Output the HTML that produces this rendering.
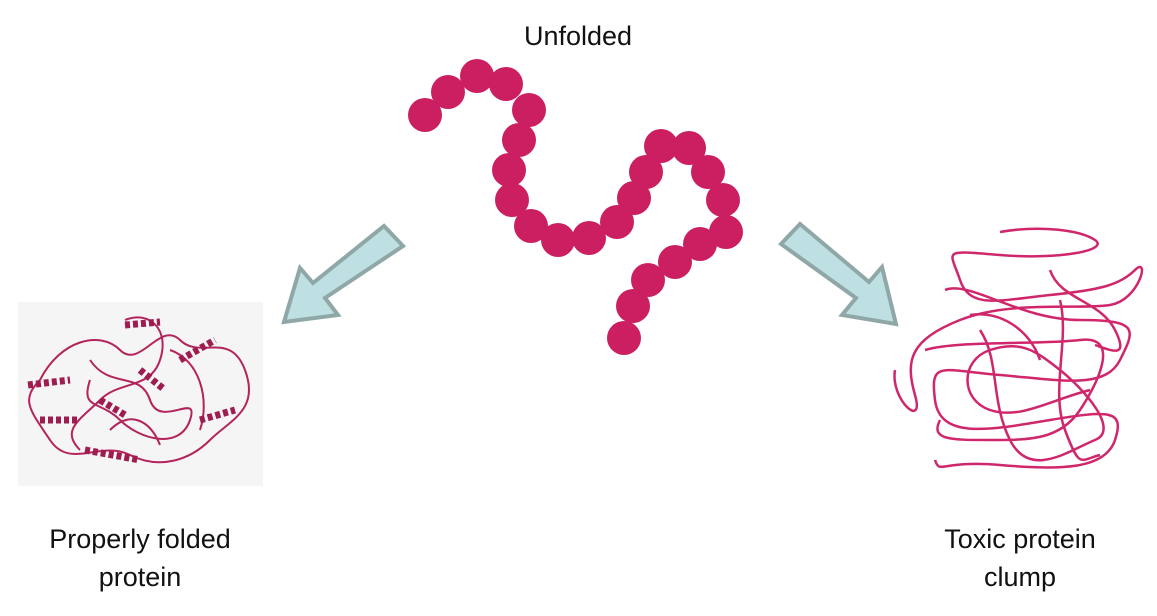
<!DOCTYPE html>
<html><head><meta charset="utf-8"><style>
html,body{margin:0;padding:0;background:#fff;width:1157px;height:616px;overflow:hidden}
svg{display:block}
text{font-family:"Liberation Sans",sans-serif;font-size:27px;fill:#111}
</style></head><body>
<svg width="1157" height="616" viewBox="0 0 1157 616">
<text x="578" y="45" text-anchor="middle">Unfolded</text>
<g id="chain" fill="#cc1f62"></g>
<g>
<polygon points="403,246 384,226 313,283 300,268 284,322 338,315 325,298" fill="#bfe0e3" stroke="#8fa8a7" stroke-width="4" stroke-linejoin="miter"/>
</g>
<g>
<polygon points="781,244 800,224 869,282 882,267 896,324 842,315 856,298" fill="#bfe0e3" stroke="#8fa8a7" stroke-width="4"/>
</g>
<g>
<rect x="18" y="302" width="245" height="184" fill="#f5f5f5"/>
<g fill="none" stroke="#b3245c" stroke-width="2">
<path d="M40,380 C60,340 100,330 120,350 S160,320 180,340 S230,330 245,370 S230,420 210,440 S160,470 130,455 S70,470 50,440 S20,400 40,380"/>
<path d="M90,360 C110,390 140,370 150,400 S200,390 190,420 S140,440 120,420 S80,410 90,380"/>
<path d="M125,320 C150,310 170,330 160,360 S120,380 100,400 S60,430 80,450"/>
<path d="M170,350 C200,360 210,400 200,430 M110,430 C130,410 150,420 160,445"/>
</g>
<g fill="none" stroke="#9e1d50" stroke-width="7" stroke-dasharray="5 3">
<path d="M28,385 L70,380 M40,420 L80,420 M85,450 L140,460 M180,360 L215,340 M200,420 L235,410 M125,325 L160,322 M140,370 L165,390 M100,400 L125,415"/>
</g></g>
<g fill="none" stroke="#d0266b" stroke-width="2.5">
<path d="M1000,232 C1040,225 1080,230 1095,240 S1060,260 1000,255 S950,250 960,280 S1000,300 1050,295 S1120,285 1135,270 S1140,300 1110,305 S1010,300 960,320 S905,360 915,395 S890,400 895,370"/>
<path d="M945,290 C970,280 1020,320 1080,320 S1135,330 1120,360 S1060,380 1000,375 S930,360 935,400 S990,430 1050,420 S1125,410 1115,440 S1060,470 1000,465 S940,475 935,460"/>
<path d="M980,330 C1000,360 990,400 1010,440 S1070,450 1095,440 S1085,390 1060,370 S1020,340 990,350 S960,400 990,410 S1050,400 1090,390"/>
<path d="M925,350 C960,340 1040,345 1080,340 S1100,380 1080,410 S1030,440 990,440 S930,440 940,420 M1060,300 C1070,340 1050,390 1065,430 S1080,460 1100,455"/>
<path d="M1050,270 C1060,300 1100,300 1115,330 S1110,350 1095,345 M970,315 C1000,310 1030,330 1040,360"/>
</g>
<text x="140" y="548" text-anchor="middle">Properly folded</text>
<text x="140" y="586" text-anchor="middle">protein</text>
<text x="1020" y="548" text-anchor="middle">Toxic protein</text>
<text x="1020" y="586" text-anchor="middle">clump</text>
</svg>
<script>
const beadX=[425,448,477,506,529,519,509,512,531,558,589,617,634,646,661,689,708,723,726,700,675,648,633,624];
const beadY=[115,92,76,84,110,140,170,200,226,240,238,222,198,172,146,148,172,200,232,244,262,280,306,338];
const g=document.getElementById('chain');
for(let i=0;i<beadX.length;i++){
 const c=document.createElementNS('http://www.w3.org/2000/svg','circle');
 c.setAttribute('cx',beadX[i]);c.setAttribute('cy',beadY[i]);c.setAttribute('r',17);
 
 
 g.appendChild(c);
}
</script>
</body></html>
